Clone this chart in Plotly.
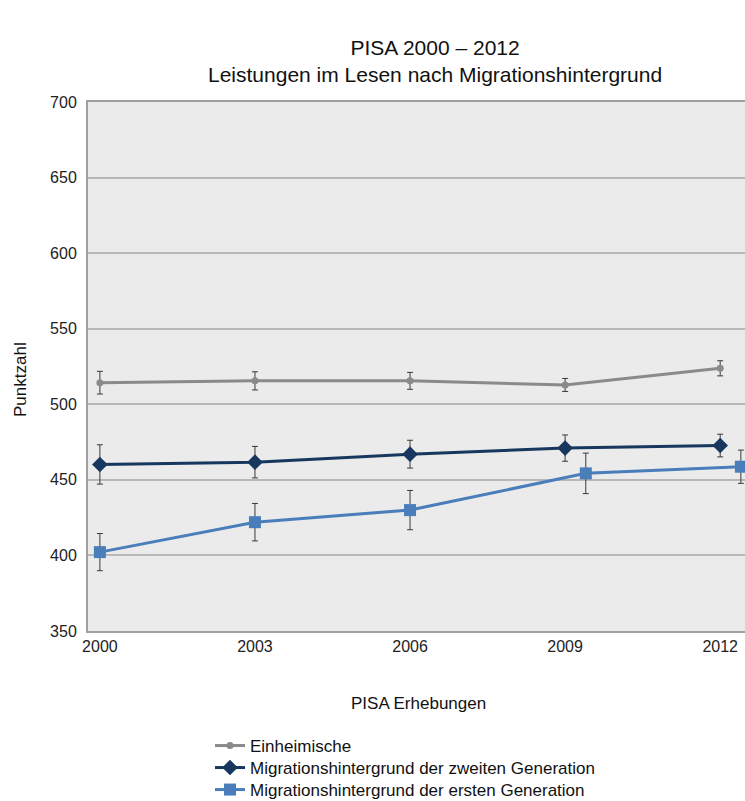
import plotly.graph_objects as go

years = [2000, 2003, 2006, 2009, 2012]
years_first_gen = [2000, 2003, 2006, 2009.4, 2012.4]

einheimische = [514.3, 515.5, 515.5, 512.8, 523.8]
einheimische_err = [7.5, 6, 5.6, 4.3, 5]

zweite_gen = [460.2, 461.7, 467.0, 471.0, 472.7]
zweite_gen_err = [13, 10.4, 9.2, 8.7, 7.5]

erste_gen = [402.2, 422.0, 430.0, 454.3, 458.7]
erste_gen_err = [12.3, 12.4, 13, 13.4, 11]

names = ["Einheimische",
         "Migrationshintergrund der zweiten Generation",
         "Migrationshintergrund der ersten Generation"]

FONT = "Liberation Sans, Arial, sans-serif"
err_style = dict(type="data", thickness=1, width=3, color="#3a3a3a")

fig = go.Figure()
fig.add_trace(go.Scatter(
    x=years, y=einheimische, name=names[0], mode="lines+markers", legend="legend",
    line=dict(color="#8a8a8a", width=3),
    marker=dict(symbol="circle", size=7, color="#8a8a8a"),
    error_y=dict(array=einheimische_err, **err_style)))
fig.add_trace(go.Scatter(
    x=years, y=zweite_gen, name=names[1], mode="lines+markers", legend="legend2",
    line=dict(color="#17375e", width=3),
    marker=dict(symbol="diamond", size=12, color="#17375e"),
    error_y=dict(array=zweite_gen_err, **err_style)))
fig.add_trace(go.Scatter(
    x=years_first_gen, y=erste_gen, name=names[2], mode="lines+markers", legend="legend3",
    line=dict(color="#4a7ebb", width=3),
    marker=dict(symbol="square", size=12, color="#4a7ebb"),
    error_y=dict(array=erste_gen_err, **err_style)))

W, H = 745, 801
PW, PH = 657, 529


def leg(yc):
    return dict(xref="container", yref="container",
                x=210 / W, y=(H - yc) / H, xanchor="left", yanchor="middle",
                font=dict(size=17, color="#111"), itemwidth=30,
                bgcolor="rgba(0,0,0,0)")


fig.update_layout(
    width=W, height=H,
    margin=dict(l=88, r=0, t=102, b=170, autoexpand=False),
    paper_bgcolor="white",
    plot_bgcolor="#ebebeb",
    font=dict(family=FONT, size=16, color="#222"),
    showlegend=True,
    legend=leg(746), legend2=leg(768), legend3=leg(790),
    annotations=[
        dict(text="PISA 2000 – 2012<br>Leistungen im Lesen nach Migrationshintergrund",
             x=(435 - 88) / PW, y=(631 - 61) / PH, xref="paper", yref="paper",
             xanchor="center", yanchor="middle", showarrow=False,
             font=dict(size=21, color="#111")),
        dict(text="Punktzahl", textangle=-90, x=(20 - 88) / PW, y=(631 - 380) / PH,
             xref="paper", yref="paper", xanchor="center", yanchor="middle",
             showarrow=False, font=dict(size=17, color="#111")),
        dict(text="PISA Erhebungen", x=(418 - 88) / PW, y=(631 - 703) / PH,
             xref="paper", yref="paper", xanchor="center", yanchor="middle",
             showarrow=False, font=dict(size=17, color="#111")),
    ],
)

fig.update_xaxes(
    range=[1999.77, 2012.48], tickvals=years, ticktext=[str(y) for y in years],
    showgrid=False, zeroline=False, showline=True, mirror=True,
    linecolor="#a0a0a0", linewidth=2, ticks="", tickfont=dict(size=16, color="#222"))
fig.update_yaxes(
    range=[350, 700], dtick=50, showgrid=True, gridcolor="#b8b8b8", gridwidth=1.5,
    zeroline=False, showline=True, linecolor="#a0a0a0", linewidth=2,
    ticks="", tickfont=dict(size=16, color="#222"), ticklabelstandoff=6)

fig.write_html("out.html", config={"displayModeBar": False},
               post_script="document.body.style.margin='0';document.body.style.overflow='hidden';")
